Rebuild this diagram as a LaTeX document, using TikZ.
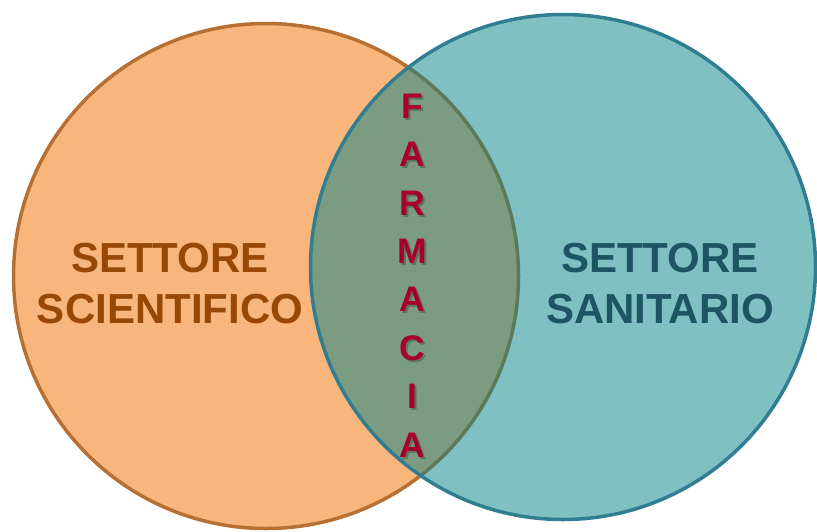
\documentclass[tikz,border=0pt]{standalone}
\usepackage{fontspec}
\setmainfont{Liberation Sans}
\definecolor{orfill}{RGB}{248,182,125}
\definecolor{orline}{RGB}{184,112,50}
\definecolor{tefill}{RGB}{0,131,133}
\definecolor{teline}{RGB}{49,126,146}
\definecolor{ortext}{RGB}{152,72,6}
\definecolor{tetext}{RGB}{30,85,100}
\definecolor{redtext}{RGB}{168,0,40}
\tikzset{
  bigset/.style={line width=3.5pt},
  seclabel/.style={align=center, inner sep=0pt, font=\fontsize{42}{51}\selectfont\bfseries},
  farmlabel/.style={align=center, inner sep=0pt, font=\fontsize{35.5}{48.4}\selectfont\bfseries},
}
\begin{document}
\begin{tikzpicture}[x=1pt,y=-1pt]
\useasboundingbox (0,0) rectangle (817,531);
% left set
\draw[bigset, draw=orline, fill=orfill] (266,276) circle[radius=252.5pt];
% right set (semi-transparent fill)
\fill[tefill, fill opacity=0.5] (563,267) circle[radius=252.5pt];
\draw[bigset, draw=teline] (563,267) circle[radius=252.5pt];
% labels
\node[seclabel, text=ortext] (sci) at (170,284) {SETTORE\\SCIENTIFICO};
\node[seclabel, text=tetext] (san) at (660,284) {SETTORE\\SANITARIO};
\node[farmlabel, text=black, text opacity=0.25] (farmshadow) at (414,277.5) {F\\A\\R\\M\\A\\C\\I\\A};
\node[farmlabel, text=redtext] (farm) at (412,275.5) {F\\A\\R\\M\\A\\C\\I\\A};
\end{tikzpicture}
\end{document}
